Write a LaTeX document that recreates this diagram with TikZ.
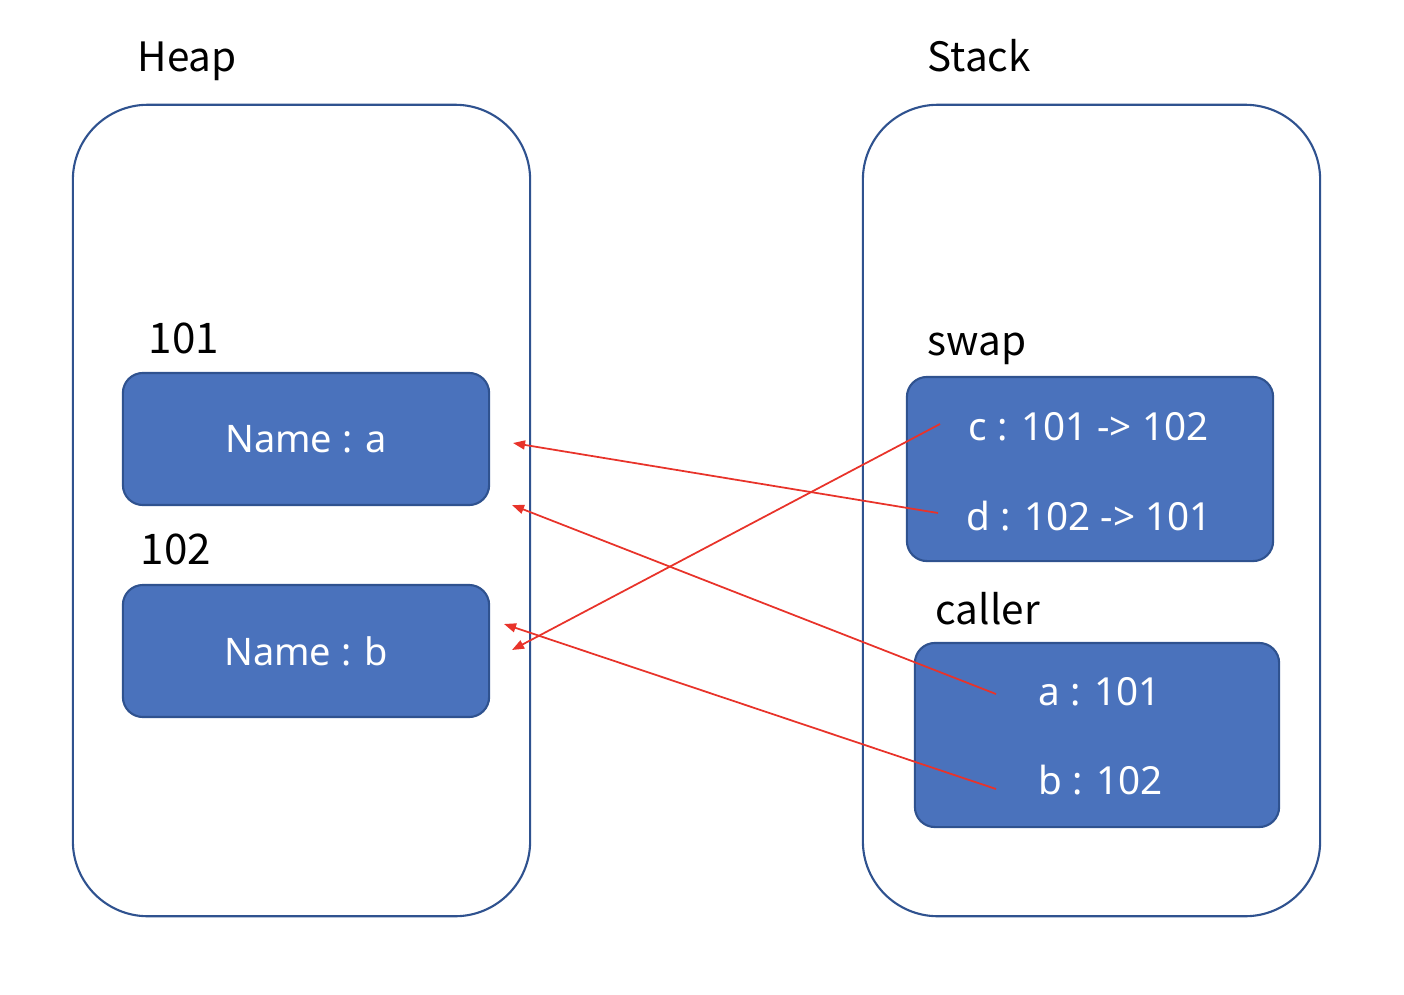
\documentclass[tikz,border=0pt]{standalone}
\usepackage{fontspec}
\setmainfont{Noto Sans}
\newfontfamily\krfont{Noto Sans CJK KR}
\usepackage{xcolor}
\usepackage{tikz}
\usetikzlibrary{arrows.meta}
\definecolor{frame}{HTML}{2F528F}
\definecolor{cellfill}{HTML}{4A72BC}
\definecolor{ptr}{HTML}{E8332A}

\begin{document}
\begin{tikzpicture}[x=0.01cm, y=-0.01cm,
    region/.style={draw=frame, line width=0.6pt, rounded corners=0.75cm,
                   minimum width=4.57cm, minimum height=8.11cm},
    cell/.style={draw=frame, line width=0.6pt, fill=cellfill, rounded corners=0.2cm,
                 text=white, font=\fontsize{10.8}{12}\selectfont},
    ttl/.style={anchor=base west, inner sep=0pt, font=\krfont\fontsize{11.5}{13}\selectfont},
    addr/.style={anchor=base west, inner sep=0pt, font=\krfont\fontsize{12}{14}\selectfont},
    val/.style={anchor=base west, inner sep=0pt, text=white, font=\fontsize{11}{13}\selectfont},
    arrow/.style={-{Triangle[length=0.12cm, width=0.09cm]}, draw=ptr, line width=0.5pt}
  ]
    \useasboundingbox (0,0) rectangle (1404,994);

    % memory regions
    \node[region] (heap) at (301.5,510.5) {};
    \node[region] (stack) at (1091.5,510.5) {};
    \node[ttl] (heaplbl) at (137,72) {Heap};
    \node[ttl] (stacklbl) at (927,72) {Stack};

    % heap objects
    \node[addr] (addra) at (148,353) {101};
    \node[cell, minimum width=3.66cm, minimum height=1.32cm] (obja) at (306,439) {Name : a};
    \node[addr] (addrb) at (140,564) {102};
    \node[cell, minimum width=3.66cm, minimum height=1.32cm] (objb) at (306,651) {Name : b};

    % stack frames
    \node[ttl] (swaplbl) at (927,355) {swap};
    \node[cell, minimum width=3.66cm, minimum height=1.84cm] (swap) at (1090,469) {};
    \node[val] (ctext) at (968,440) {c : 101 -> 102};
    \node[val] (dtext) at (966,530) {d : 102 -> 101};

    \node[ttl] (callerlbl) at (935,624) {caller};
    \node[cell, minimum width=3.64cm, minimum height=1.84cm] (caller) at (1097,735) {};
    \node[val] (atext) at (1038,705) {a : 101};
    \node[val] (btext) at (1038,794) {b : 102};

    % reference ends
    \coordinate (csrc) at (940,424);
    \coordinate (dsrc) at (938,513);
    \coordinate (asrc) at (996,694);
    \coordinate (bsrc) at (996,789);
    \coordinate (ina) at (513,443);
    \coordinate (inb) at (512,650);
    \coordinate (ina2) at (512,505);
    \coordinate (inb2) at (504,624);

    \draw[arrow] (dsrc) -- (ina);
    \draw[arrow] (csrc) -- (inb);
    \draw[arrow] (asrc) -- (ina2);
    \draw[arrow] (bsrc) -- (inb2);
  \end{tikzpicture}
\end{document}
